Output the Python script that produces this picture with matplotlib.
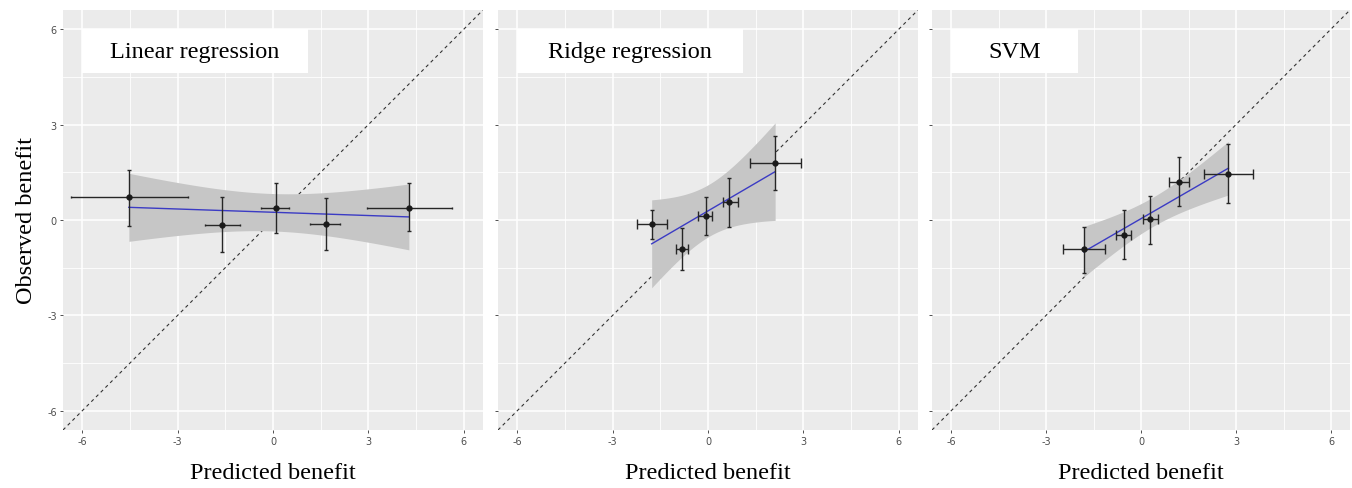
import numpy as np
import matplotlib
matplotlib.use("Agg")
import matplotlib.pyplot as plt
from matplotlib.patches import Rectangle

plt.rcParams['axes.unicode_minus'] = False

titles = ['Linear regression', 'Ridge regression', 'SVM']

# predicted benefit (group means) with horizontal interval
lin_x = [-4.53, -1.60, 0.08, 1.65, 4.27]
lin_x_lo = [-6.35, -2.13, -0.37, 1.17, 2.95]
lin_x_hi = [-2.68, -1.05, 0.50, 2.12, 5.64]
lin_y = [0.72, -0.15, 0.39, -0.13, 0.39]
lin_y_lo = [-0.19, -1.00, -0.41, -0.94, -0.36]
lin_y_hi = [1.58, 0.71, 1.15, 0.69, 1.15]

ridge_x = [-1.77, -0.82, -0.07, 0.67, 2.11]
ridge_x_lo = [-2.22, -1.01, -0.30, 0.46, 1.32]
ridge_x_hi = [-1.30, -0.63, 0.13, 0.95, 2.92]
ridge_y = [-0.12, -0.90, 0.14, 0.58, 1.80]
ridge_y_lo = [-0.61, -1.56, -0.48, -0.21, 0.94]
ridge_y_hi = [0.31, -0.26, 0.73, 1.32, 2.63]

svm_x = [-1.81, -0.55, 0.28, 1.20, 2.76]
svm_x_lo = [-2.46, -0.78, 0.06, 0.88, 2.00]
svm_x_hi = [-1.13, -0.32, 0.55, 1.52, 3.55]
svm_y = [-0.92, -0.47, 0.03, 1.19, 1.46]
svm_y_lo = [-1.66, -1.21, -0.75, 0.43, 0.52]
svm_y_hi = [-0.21, 0.30, 0.77, 1.97, 2.39]

ticks = [-6, -3, 0, 3, 6]
minor_ticks = [-4.5, -1.5, 1.5, 4.5]
box_right = [1.09, 1.09, -2.0]

panels = [
    (lin_x, lin_x_lo, lin_x_hi, lin_y, lin_y_lo, lin_y_hi),
    (ridge_x, ridge_x_lo, ridge_x_hi, ridge_y, ridge_y_lo, ridge_y_hi),
    (svm_x, svm_x_lo, svm_x_hi, svm_y, svm_y_lo, svm_y_hi),
]

T_975_DF3 = 3.182  # t quantile for 95% CI with 5 points


def lm_band(x, y, n=80):
    # same thing geom_smooth(method='lm') draws
    x = np.asarray(x)
    y = np.asarray(y)
    b, a = np.polyfit(x, y, 1)
    resid = y - (a + b * x)
    s = np.sqrt(np.sum(resid ** 2) / (len(x) - 2))
    xs = np.linspace(x.min(), x.max(), n)
    se = s * np.sqrt(1 / len(x) + (xs - x.mean()) ** 2 / np.sum((x - x.mean()) ** 2))
    fit = a + b * xs
    return xs, fit, fit - T_975_DF3 * se, fit + T_975_DF3 * se


fig = plt.figure(figsize=(13.52, 4.89), dpi=100)
lefts = [63, 498, 932]
widths = [420, 420, 418]

for i, (x, xlo, xhi, y, ylo, yhi) in enumerate(panels):
    ax = fig.add_axes([lefts[i] / 1352, 1 - 431 / 489, widths[i] / 1352, 420 / 489])
    ax.set_facecolor('#EBEBEB')
    ax.set_xlim(-6.6, 6.6)
    ax.set_ylim(-6.6, 6.6)
    ax.set_xticks(ticks)
    ax.set_yticks(ticks)
    ax.set_xticks(minor_ticks, minor=True)
    ax.set_yticks(minor_ticks, minor=True)
    ax.grid(True, which='major', color='white', lw=1.1)
    ax.grid(True, which='minor', color='white', lw=0.6)
    ax.tick_params(which='minor', length=0)
    ax.tick_params(which='major', length=2.5, width=0.6, color='#333333',
                   labelsize=7, labelcolor='#4D4D4D', pad=2)
    for sp in ax.spines.values():
        sp.set_visible(False)
    ax.set_axisbelow(True)
    if i > 0:
        ax.set_yticklabels([])

    ax.plot([-6.6, 6.6], [-6.6, 6.6], ls=(0, (3, 3)), color='#333333', lw=0.8, zorder=2)

    xs, fit, lo, hi = lm_band(x, y)
    ax.fill_between(xs, lo, hi, color='#C6C6C6', lw=0, zorder=3)
    ax.plot(xs, fit, color='#3B3BC4', lw=1.0, zorder=4)

    xa = np.array(x)
    ya = np.array(y)
    xerr = [xa - np.array(xlo), np.array(xhi) - xa]
    yerr = [ya - np.array(ylo), np.array(yhi) - ya]
    ax.errorbar(x, y, xerr=xerr, fmt='none', ecolor='#262626', elinewidth=1.0,
                capsize=1.0 if i == 0 else 3.5, capthick=1.0, zorder=5)
    ax.errorbar(x, y, yerr=yerr, fmt='none', ecolor='#262626', elinewidth=1.0,
                capsize=1.5, capthick=1.0, zorder=5)
    ax.plot(x, y, 'o', color='#1A1A1A', ms=3.5, zorder=6)

    ax.add_patch(Rectangle((-6, 4.62), box_right[i] + 6, 1.38, facecolor='white',
                           edgecolor='none', zorder=7))
    ax.text((box_right[i] - 6) / 2, 5.31, titles[i], ha='center', va='center',
            family='Liberation Serif', fontsize=17.5, zorder=8)

    ax.set_xlabel('Predicted benefit', family='Liberation Serif', fontsize=17.5, labelpad=11)
    if i == 0:
        ax.set_ylabel('Observed benefit', family='Liberation Serif', fontsize=17.5, labelpad=7)

fig.savefig('out.png', dpi=100)
